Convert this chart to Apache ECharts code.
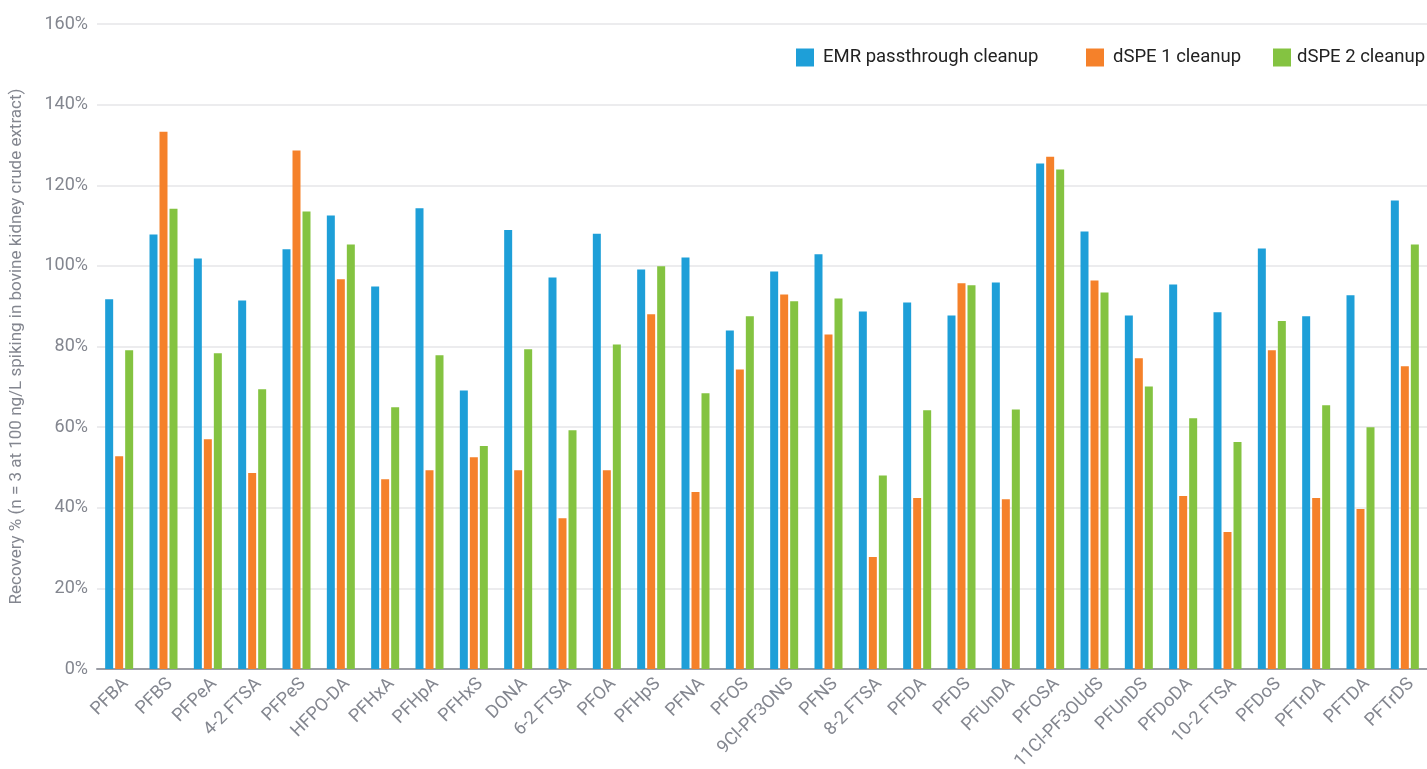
<!DOCTYPE html>
<html><head><meta charset="utf-8">
<script src="https://cdn.jsdelivr.net/npm/echarts@6/dist/echarts.min.js"></script>
<style>html,body{margin:0;padding:0;background:#fff}#c{width:1427px;height:769px}</style>
</head><body><div id="c"></div>
<script>
const categories = ['PFBA','PFBS','PFPeA','4-2 FTSA','PFPeS','HFPO-DA','PFHxA','PFHpA','PFHxS','DONA','6-2 FTSA','PFOA','PFHpS','PFNA','PFOS','9Cl-PF3ONS','PFNS','8-2 FTSA','PFDA','PFDS','PFUnDA','PFOSA','11Cl-PF3OUdS','PFUnDS','PFDoDA','10-2 FTSA','PFDoS','PFTrDA','PFTDA','PFTrDS'];
const emr = [91.7,107.8,101.8,91.4,104.1,112.5,94.9,114.3,69.1,108.9,97.1,108.0,99.1,102.1,84.0,98.6,102.9,88.7,90.9,87.7,95.9,125.4,108.5,87.7,95.4,88.5,104.3,87.5,92.7,116.2];
const dspe1 = [52.8,133.3,57.0,48.6,128.6,96.7,47.1,49.3,52.5,49.3,37.4,49.3,88.0,43.9,74.3,92.9,83.0,27.8,42.4,95.7,42.1,127.1,96.4,77.1,42.9,34.0,79.1,42.4,39.7,75.1];
const dspe2 = [79.1,114.2,78.3,69.4,113.5,105.3,64.9,77.8,55.3,79.3,59.2,80.5,99.9,68.4,87.5,91.2,91.9,48.0,64.2,95.2,64.4,123.9,93.4,70.1,62.2,56.3,86.3,65.4,60.0,105.3];
const seriesNames = ['EMR passthrough cleanup','dSPE 1 cleanup','dSPE 2 cleanup'];
const yTicks = [0,20,40,60,80,100,120,140,160];
const colors = ['#1E9FD8','#F5812A','#84C341'];
const chart = echarts.init(document.getElementById('c'));
const mk = (name, data, i) => ({name, type:'bar', data, barWidth:8, barGap:'25%', itemStyle:{color:colors[i]}});
const legendLefts = [796,1086,1273];
const gray = '#83868f';
chart.setOption({
  animation:false,
  textStyle:{fontFamily:'Roboto'},
  grid:{left:97,right:0,top:24,bottom:100,containLabel:false,outerBoundsMode:'none'},
  legend: seriesNames.map((n,i)=>({left:legendLefts[i],top:48,padding:0,itemWidth:18,itemHeight:18,icon:'rect',
    textStyle:{fontSize:18.5,color:'#222',fontFamily:'Roboto',padding:[0,0,0,i===2?1:4]},data:[n]})),
  xAxis:{type:'category',data:categories,
    axisLine:{lineStyle:{color:'#9a9ca4',width:2}},axisTick:{show:false},
    axisLabel:{rotate:45,fontSize:18,color:gray,margin:6,interval:0,verticalAlign:'top'}},
  yAxis:{type:'value',min:yTicks[0],max:yTicks[yTicks.length-1],interval:20,
    name:'Recovery % (n = 3 at 100 ng/L spiking in bovine kidney crude extract)',
    nameLocation:'middle',nameGap:72,nameTextStyle:{fontSize:17,color:gray},
    axisLabel:{formatter:'{value}%',fontSize:18,color:gray,margin:9},
    axisLine:{show:false},axisTick:{show:false},
    splitLine:{lineStyle:{color:'#e6e6e8',width:1.5}}},
  series:[mk(seriesNames[0],emr,0),mk(seriesNames[1],dspe1,1),mk(seriesNames[2],dspe2,2)]
});
</script></body></html>
